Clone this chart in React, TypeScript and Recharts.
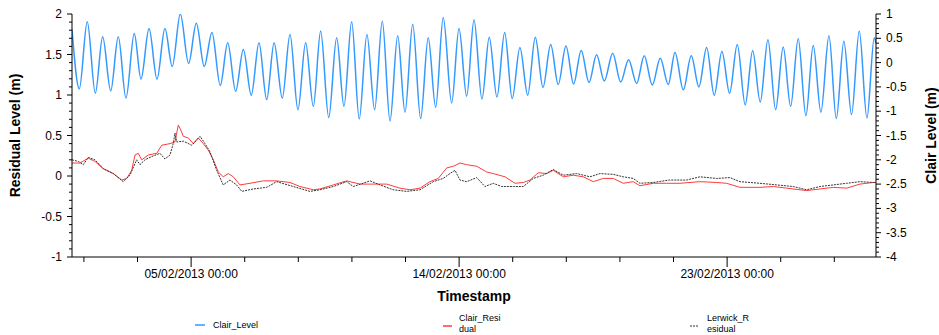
import React from 'react';
import { LineChart, Line, XAxis, YAxis, Legend } from 'recharts';

// Hours since 01/02/2013 00:00
const tideHours = [0, 5.9, 12.3, 18.8, 24.7, 31.2, 37.3, 43.5, 50.2, 55.6,
  62.1, 68.5, 74.9, 80.8, 87.3, 94.0, 100.2, 106.6, 112.8, 119.5,
  125.5, 131.9, 138.1, 144.5, 150.7, 156.9, 162.9, 169.5, 175.7, 182.1,
  188.3, 194.5, 200.4, 206.9, 213.3, 219.2, 225.4, 231.5, 237.7, 243.9,
  250.1, 256.3, 262.5, 268.4, 274.6, 281.0, 287.1, 293.1, 299.2, 306.0,
  311.9, 318.1, 324.0, 330.4, 336.3, 342.5, 348.7, 354.8, 361.0, 367.3,
  373.4, 379.6, 385.8, 391.9, 398.1, 404.3, 410.4, 416.7, 422.8, 429.0,
  435.8, 442.2, 448.6, 455.1, 461.2, 467.7, 474.1, 480.6, 486.0, 492.7,
  499.1, 505.3, 511.5, 517.6, 523.8, 530.0, 536.2, 542.6, 548.6, 554.7,
  560.9, 567.1, 573.2, 579.2, 585.3, 591.5, 597.4, 603.6, 610.1, 616.0,
  622.1, 628.3, 634.5, 640.7, 646.6, 648];
const tideLevels = [0.68, -0.54, 0.84, -0.63, 0.53, -0.58, 0.53, -0.73, 0.60, -0.34,
  0.70, -0.34, 0.70, -0.08, 1.0, -0.02, 0.81, -0.08, 0.62, -0.47,
  0.41, -0.59, 0.27, -0.67, 0.41, -0.76, 0.41, -0.73, 0.58, -0.97,
  0.41, -0.90, 0.65, -1.13, 0.51, -0.90, 0.84, -1.16, 0.58, -0.97,
  0.85, -1.20, 0.55, -1.02, 0.79, -1.15, 0.51, -0.92, 0.93, -0.83,
  0.70, -0.69, 0.88, -0.75, 0.52, -0.71, 0.62, -0.74, 0.31, -0.67,
  0.52, -0.51, 0.37, -0.45, 0.34, -0.44, 0.25, -0.41, 0.16, -0.38,
  0.19, -0.40, 0.06, -0.43, 0.14, -0.46, 0.09, -0.45, 0.21, -0.56,
  0.14, -0.50, 0.31, -0.67, 0.23, -0.63, 0.37, -0.87, 0.25, -0.81,
  0.47, -0.97, 0.32, -0.90, 0.49, -1.09, 0.35, -1.02, 0.55, -1.15,
  0.44, -1.07, 0.65, -1.14, 0.51, 0.40];

const clairResHours = [0, 6.4, 13.1, 18.5, 25.2, 33.3, 40.1, 44.1, 48.1, 50.8,
  53.4, 56.2, 61.5, 68.3, 72.3, 79.0, 83.0, 85.7, 87.6, 89.7,
  93.7, 97.8, 101.8, 105.8, 109.8, 113.9, 117.9, 121.9, 126.0, 130.0,
  135.4, 143.5, 154.2, 165.0, 175.7, 183.7, 194.5, 199.9, 210.6, 221.4,
  232.1, 242.8, 253.6, 264.3, 272.4, 280.5, 288.5, 295.2, 302.0, 307.3,
  312.7, 318.1, 326.2, 334.2, 339.5, 349.0, 357.0, 363.7, 369.1, 375.8,
  382.6, 387.9, 396.0, 404.0, 412.1, 420.1, 428.2, 436.3, 444.3, 452.3,
  457.7, 468.5, 479.3, 490.0, 506.1, 519.6, 527.6, 538.3, 554.5, 565.2,
  576.0, 592.1, 602.8, 613.6, 624.3, 635.1, 645.8, 648];
const clairResValues = [0.16, 0.16, 0.22, 0.18, 0.09, 0.03, -0.05, -0.03, 0.07, 0.26,
  0.28, 0.20, 0.26, 0.28, 0.38, 0.40, 0.42, 0.63, 0.57, 0.49,
  0.47, 0.40, 0.47, 0.40, 0.32, 0.20, 0.05, -0.01, 0.03, -0.01,
  -0.11, -0.09, -0.06, -0.06, -0.08, -0.13, -0.17, -0.16, -0.11, -0.06,
  -0.10, -0.10, -0.10, -0.15, -0.17, -0.15, -0.07, -0.03, 0.10, 0.12,
  0.16, 0.14, 0.12, 0.05, 0.03, -0.01, -0.09, -0.08, -0.05, 0.04,
  0.03, 0.07, -0.01, 0.01, -0.01, -0.07, -0.03, -0.03, -0.09, -0.07,
  -0.12, -0.09, -0.09, -0.09, -0.07, -0.08, -0.09, -0.14, -0.14, -0.13,
  -0.15, -0.18, -0.16, -0.14, -0.15, -0.10, -0.08, -0.08];

const lerwickResHours = [0, 5.1, 9.1, 13.1, 18.5, 25.2, 33.3, 41.3, 46.7, 52.1,
  54.8, 58.8, 64.2, 70.9, 74.9, 79.0, 81.6, 83.0, 84.4, 89.7,
  96.5, 103.2, 107.2, 111.2, 116.6, 121.9, 127.3, 132.7, 136.8, 146.1,
  156.9, 165.0, 178.3, 191.8, 199.9, 210.6, 221.4, 226.7, 240.2, 248.2,
  258.9, 269.7, 280.5, 291.2, 299.2, 304.6, 308.7, 312.7, 318.1, 326.2,
  332.8, 339.5, 346.3, 355.7, 363.7, 371.8, 379.8, 387.9, 396.0, 406.8,
  417.5, 425.5, 436.3, 444.3, 452.3, 457.7, 468.5, 481.5, 495.4, 506.1,
  519.6, 530.3, 538.3, 554.5, 567.9, 581.3, 592.1, 602.8, 613.6, 624.3,
  635.1, 645.8, 648];
const lerwickResValues = [0.20, 0.18, 0.14, 0.23, 0.20, 0.09, 0.03, -0.07, 0.01, 0.20,
  0.14, 0.20, 0.24, 0.28, 0.21, 0.26, 0.40, 0.53, 0.42, 0.43,
  0.38, 0.49, 0.40, 0.30, 0.07, -0.11, -0.05, -0.11, -0.19, -0.16,
  -0.14, -0.07, -0.13, -0.19, -0.17, -0.13, -0.07, -0.13, -0.06, -0.11,
  -0.17, -0.19, -0.17, -0.07, -0.03, 0.03, 0.07, -0.05, -0.07, -0.02,
  -0.13, -0.09, -0.13, -0.13, -0.13, -0.03, 0.01, 0.08, 0.01, 0.03,
  -0.01, 0.03, 0.02, -0.01, -0.03, -0.09, -0.08, -0.05, -0.05, -0.01,
  -0.03, -0.02, -0.07, -0.09, -0.11, -0.13, -0.17, -0.13, -0.11, -0.09,
  -0.07, -0.08, -0.08];

const seriesNames = ['Clair_Level', 'Clair_Residual', 'Lerwick_Residual'];
const legendLines = [['Clair_Level'], ['Clair_Resi', 'dual'], ['Lerwick_R', 'esidual']];
const seriesColors = ['#3399ff', '#ff3b3b', '#333333'];

const xMajorHours = [96, 312, 528];
const xMajorLabels = ['05/02/2013 00:00', '14/02/2013 00:00', '23/02/2013 00:00'];

const FONT = '"Liberation Sans", Arial, sans-serif';

const tideData = tideHours.map((t, i) => ({ t, v: tideLevels[i] }));
const clairData = clairResHours.map((t, i) => ({ t, v: clairResValues[i] }));
const lerwickData = lerwickResHours.map((t, i) => ({ t, v: lerwickResValues[i] }));

const xTicks: number[] = [];
for (let k = -2; k <= 12; k++) {
  const h = Math.round((96 + 43.2 * k) * 10) / 10;
  if (h > 0 && h < 648) xTicks.push(h);
}
const leftTicks: number[] = [];
for (let i = 0; i <= 30; i++) leftTicks.push(Math.round((-1 + i * 0.1) * 10) / 10);
const rightTicks: number[] = [];
for (let i = 0; i <= 50; i++) rightTicks.push(Math.round((-4 + i * 0.1) * 10) / 10);

const isMajorY = (v: number) => Math.abs(v * 2 - Math.round(v * 2)) < 1e-6;

const XTick = (props: any) => {
  const { x, y, payload } = props;
  const idx = xMajorHours.findIndex((h) => Math.abs(h - payload.value) < 0.01);
  const major = idx >= 0;
  return (
    <g>
      <line x1={x} x2={x} y1={y} y2={y + (major ? 10 : 5)} stroke="#000" />
      {major && (
        <text x={x} y={y + 21} textAnchor="middle" fontSize={12} fontFamily={FONT} fill="#000">
          {xMajorLabels[idx]}
        </text>
      )}
    </g>
  );
};

const LeftTick = (props: any) => {
  const { x, y, payload } = props;
  const major = isMajorY(payload.value);
  return (
    <g>
      <line x1={x - (major ? 5 : 3)} x2={x} y1={y} y2={y} stroke="#000" />
      {major && (
        <text x={x - 10} y={y + 4} textAnchor="end" fontSize={12} fontFamily={FONT} fill="#000">
          {String(payload.value)}
        </text>
      )}
    </g>
  );
};

const RightTick = (props: any) => {
  const { x, y, payload } = props;
  const major = isMajorY(payload.value);
  return (
    <g>
      <line x1={x} x2={x + (major ? 5 : 3)} y1={y} y2={y} stroke="#000" />
      {major && (
        <text x={x + 10} y={y + 4} textAnchor="start" fontSize={12} fontFamily={FONT} fill="#000">
          {String(payload.value)}
        </text>
      )}
    </g>
  );
};

const renderLegend = () => (
  <svg width={939} height={24} style={{ display: 'block' }}>
    <g fontFamily={FONT} fontSize={9} fill="#000">
      <line x1={195} x2={205} y1={14} y2={14} stroke={seriesColors[0]} strokeWidth={1.5} />
      <text x={213} y={17}>{legendLines[0][0]}</text>
      <line x1={443} x2={452} y1={15} y2={15} stroke={seriesColors[1]} strokeWidth={1.5} />
      <text x={459} y={10}>{legendLines[1][0]}</text>
      <text x={459} y={21}>{legendLines[1][1]}</text>
      <line x1={690} x2={698} y1={15} y2={15} stroke={seriesColors[2]} strokeWidth={1} strokeDasharray="2 1" />
      <text x={707} y={10}>{legendLines[2][0]}</text>
      <text x={707} y={21}>{legendLines[2][1]}</text>
    </g>
  </svg>
);

export default function App() {
  return (
    <div style={{ position: 'absolute', left: 0, top: 0, background: '#fff' }}>
      <LineChart width={939} height={335} margin={{ top: 14, right: 0, bottom: 0, left: 0 }}>
        <XAxis
          dataKey="t"
          type="number"
          domain={[0, 648]}
          ticks={xTicks}
          interval={0}
          height={54}
          tickSize={0}
          tickMargin={0}
          tickLine={false}
          tick={<XTick />}
          axisLine={{ stroke: '#000' }}
          allowDataOverflow
          label={{
            content: (p: any) => {
              const vb = p.viewBox;
              return (
                <text x={vb.x + vb.width / 2} y={vb.y + 44} textAnchor="middle" fontSize={14} fontWeight="bold" fontFamily={FONT} fill="#000">
                  Timestamp
                </text>
              );
            },
          }}
        />
        <YAxis
          yAxisId="left"
          orientation="left"
          width={72}
          domain={[-1, 2]}
          ticks={leftTicks}
          interval={0}
          tickSize={0}
          tickMargin={0}
          tickLine={false}
          tick={<LeftTick />}
          axisLine={{ stroke: '#000' }}
          allowDataOverflow
          label={{
            content: (p: any) => {
              const vb = p.viewBox;
              const cx = vb.x + 15;
              const cy = vb.y + vb.height / 2;
              return (
                <text x={cx} y={cy} transform={`rotate(-90 ${cx} ${cy})`} textAnchor="middle" dominantBaseline="central" fontSize={14} fontWeight="bold" fontFamily={FONT} fill="#000">
                  Residual Level (m)
                </text>
              );
            },
          }}
        />
        <YAxis
          yAxisId="right"
          orientation="right"
          width={63}
          domain={[-4, 1]}
          ticks={rightTicks}
          interval={0}
          tickSize={0}
          tickMargin={0}
          tickLine={false}
          tick={<RightTick />}
          axisLine={{ stroke: '#000' }}
          allowDataOverflow
          label={{
            content: (p: any) => {
              const vb = p.viewBox;
              const cx = vb.x + 55;
              const cy = vb.y + vb.height / 2;
              return (
                <text x={cx} y={cy} transform={`rotate(-90 ${cx} ${cy})`} textAnchor="middle" dominantBaseline="central" fontSize={14} fontWeight="bold" fontFamily={FONT} fill="#000">
                  Clair Level (m)
                </text>
              );
            },
          }}
        />
        <Legend verticalAlign="bottom" content={renderLegend} />
        <Line
          yAxisId="right"
          data={tideData}
          dataKey="v"
          name={seriesNames[0]}
          type="monotone"
          stroke={seriesColors[0]}
          strokeWidth={1.5}
          dot={false}
          isAnimationActive={false}
        />
        <Line
          yAxisId="left"
          data={clairData}
          dataKey="v"
          name={seriesNames[1]}
          type="linear"
          stroke={seriesColors[1]}
          strokeWidth={1}
          dot={false}
          isAnimationActive={false}
        />
        <Line
          yAxisId="left"
          data={lerwickData}
          dataKey="v"
          name={seriesNames[2]}
          type="linear"
          stroke={seriesColors[2]}
          strokeWidth={1}
          strokeDasharray="2 1"
          dot={false}
          isAnimationActive={false}
        />
      </LineChart>
    </div>
  );
}
